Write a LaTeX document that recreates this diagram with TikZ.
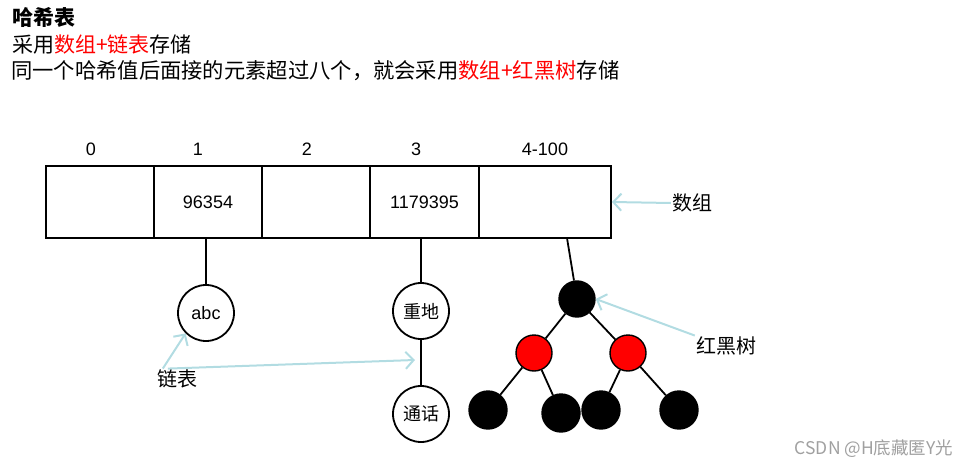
\documentclass[tikz,border=0pt]{standalone}
\usepackage{fontspec}
\setmainfont{Liberation Sans}
\newfontfamily\cjk{Noto Sans CJK SC}
\usetikzlibrary{arrows.meta,positioning}
\definecolor{hintblue}{RGB}{178,220,226}
\definecolor{rbred}{RGB}{255,0,0}
\definecolor{markgray}{RGB}{160,160,160}

\begin{document}
\begin{tikzpicture}[x=1pt,y=-1pt,
    cell/.style={draw,line width=1.8pt,minimum height=72pt,inner sep=0pt,font=\fontsize{18}{20}\selectfont},
    idx/.style={font=\fontsize{18}{20}\selectfont},
    ring/.style={draw,circle,line width=1.8pt,minimum size=56pt,inner sep=0pt,font=\cjk\fontsize{18}{20}\selectfont},
    bnode/.style={draw,circle,fill=black,line width=1.4pt,minimum size=36pt,inner sep=0pt},
    rnode/.style={bnode,fill=rbred},
    note/.style={font=\cjk\fontsize{20}{22}\selectfont,inner sep=1pt},
    ptr/.style={hintblue,line width=2pt,-{Straight Barb[length=8pt,width=17pt]}},
    edge/.style={line width=1.8pt}
  ]
  \useasboundingbox (0,0) rectangle (979,468);

  % TITLE
  \node[anchor=west,font=\cjk\fontsize{21}{23}\selectfont\bfseries,inner sep=0pt] (t1) at (12,17) {哈希表};
  \node[anchor=west,font=\cjk\fontsize{21}{23}\selectfont,inner sep=0pt] (t2) at (12,45)
    {采用\textcolor{rbred}{数组+链表}存储};
  \node[anchor=west,font=\cjk\fontsize{21.3}{23}\selectfont,inner sep=0pt] (t3) at (11,71)
    {同一个哈希值后面接的元素超过八个，就会采用\textcolor{rbred}{数组+红黑树}存储};

  % ARRAY
  \node[cell,minimum width=108pt] (c0) at (100,202) {};
  \node[cell,minimum width=108pt] (c1) at (208,202) {96354};
  \node[cell,minimum width=108pt] (c2) at (316,202) {};
  \node[cell,minimum width=109pt] (c3) at (424.5,202) {1179395};
  \node[cell,minimum width=132pt] (c4) at (545,202) {};

  \node[idx] (i0) at (91,149)  {0};
  \node[idx] (i1) at (198,149) {1};
  \node[idx] (i2) at (307,149) {2};
  \node[idx] (i3) at (416,149) {3};
  \node[idx] (i4) at (545,149) {4-100};

  % LISTS
  \node[ring] (abc) at (206,313) {\fontspec{Liberation Sans}abc};
  \node[ring] (zd)  at (421,311) {重地};
  \node[ring] (th)  at (421,414) {通话};

  \draw[edge] (abc) -- (abc |- c1.south);
  \draw[edge] (zd) -- (zd |- c3.south);
  \draw[edge] (zd) -- (th);

  % TREE
  \node[bnode] (r)   at (577,299) {};
  \node[rnode] (rl)  at (534,353) {};
  \node[rnode] (rr)  at (628,353) {};
  \node[bnode,minimum size=38pt] (l1) at (488,410) {};
  \node[bnode,minimum size=38pt] (l2) at (561,413) {};
  \node[bnode,minimum size=38pt] (l3) at (601,410) {};
  \node[bnode,minimum size=38pt] (l4) at (679,410) {};

  \coordinate (top) at (567,238);
  \draw[edge] (top) -- (r);
  \draw[edge] (r) -- (rl);
  \draw[edge] (r) -- (rr);
  \draw[edge] (rl) -- (l1);
  \draw[edge] (rl) -- (l2);
  \draw[edge] (rr) -- (l3);
  \draw[edge] (rr) -- (l4);

  % NOTES
  \node[note] (arr)  at (692,203) {数组};
  \node[note] (rbt)  at (726,346) {红黑树};
  \node[note] (list) at (177,379) {链表};
  \coordinate (mid) at (415,360);

  \draw[ptr] (arr.west) -- (c4.east);
  \draw[ptr] (rbt.north west) -- (r.east);
  \draw[ptr] ([xshift=7pt]list.north west) -- (abc.south west);
  \draw[ptr] ([xshift=12pt]list.north west) -- (mid);

  \node[font=\cjk\fontsize{17.5}{19}\selectfont,text=markgray] (mark) at (874,449) {CSDN @H底藏匿Y光};
\end{tikzpicture}
\end{document}
